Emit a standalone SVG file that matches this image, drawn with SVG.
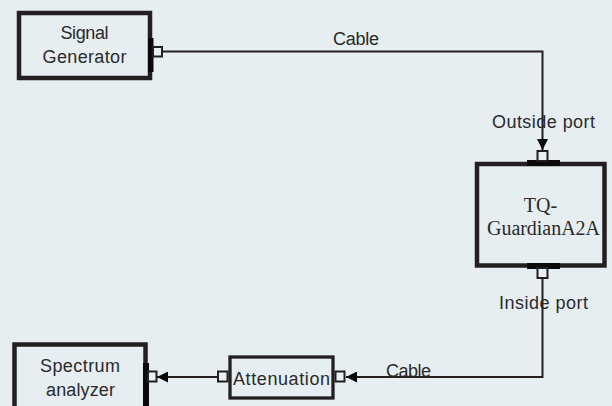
<svg xmlns="http://www.w3.org/2000/svg" width="612" height="406" viewBox="0 0 612 406">
<defs>
<style>
.box{fill:none;stroke:#231f20;stroke-width:4.5}
.port{fill:#e8f0f3;stroke:#231f20;stroke-width:2}
.bar{fill:#0a0a0a}
.lbl{font-family:"Liberation Sans",Arial,sans-serif;font-size:18px;fill:#2a2a2a;text-anchor:middle}
.ser{font-family:"Liberation Serif","Times New Roman",serif;font-size:20px;fill:#2a2a2a;text-anchor:middle}
.wire{fill:none;stroke:#231f20;stroke-width:2}
</style>
<marker id="arr" viewBox="0 0 11 11" refX="11" refY="5.5" markerWidth="11" markerHeight="11" markerUnits="userSpaceOnUse" orient="auto">
<path d="M0,0 L11,5.5 L0,11 Z" fill="#0a0a0a"/>
</marker>
</defs>
<rect x="0" y="0" width="612" height="406" fill="#e6eef1"/>

<g id="connectors">
<path class="wire" d="M163,51.5 H542.5 V150" marker-end="url(#arr)"/>
<path class="wire" d="M542.5,279 V377 H346" marker-end="url(#arr)"/>
<path class="wire" d="M217,377 H157" marker-end="url(#arr)"/>
<text class="lbl" x="356" y="45" textLength="46" lengthAdjust="spacing">Cable</text>
<text class="lbl" x="543.5" y="128" textLength="103" lengthAdjust="spacing">Outside port</text>
<text class="lbl" x="543.5" y="309" textLength="89" lengthAdjust="spacing">Inside port</text>
<text class="lbl" x="408.5" y="377" textLength="45" lengthAdjust="spacing">Cable</text>
</g>

<g id="signal-generator">
<rect class="box" x="19" y="13" width="131" height="65"/>
<rect class="bar" x="148" y="38" width="5.5" height="34"/>
<rect class="port" x="153" y="47" width="9" height="9.5"/>
<text class="lbl" x="84.5" y="39" textLength="48" lengthAdjust="spacing">Signal</text>
<text class="lbl" x="84.5" y="63" textLength="84" lengthAdjust="spacing">Generator</text>
</g>

<g id="tq-guardian">
<rect class="box" x="477" y="164" width="127.5" height="101.5"/>
<rect class="bar" x="527" y="160" width="33" height="6"/>
<rect class="bar" x="527" y="263" width="33" height="6"/>
<rect class="port" x="537.5" y="151" width="10" height="10"/>
<rect class="port" x="537.5" y="268" width="10" height="10"/>
<text class="ser" x="540.5" y="212">TQ-</text>
<text class="ser" x="543.5" y="235" textLength="113" lengthAdjust="spacing">GuardianA2A</text>
</g>

<g id="attenuation">
<rect class="box" style="stroke-width:3.3" x="230" y="357" width="103" height="41"/>
<rect class="port" x="218" y="371.5" width="9.5" height="10"/>
<rect class="port" x="335.5" y="371.5" width="9" height="10"/>
<text class="lbl" x="281.5" y="385" textLength="97" lengthAdjust="spacing">Attenuation</text>
</g>

<g id="spectrum-analyzer">
<rect class="box" x="14.5" y="344.5" width="131" height="80"/>
<rect class="bar" x="143" y="363" width="6" height="50"/>
<rect class="port" x="148" y="371.5" width="8.5" height="10"/>
<text class="lbl" x="80" y="372" textLength="80" lengthAdjust="spacing">Spectrum</text>
<text class="lbl" x="80.5" y="396" textLength="69" lengthAdjust="spacing">analyzer</text>
</g>
</svg>
